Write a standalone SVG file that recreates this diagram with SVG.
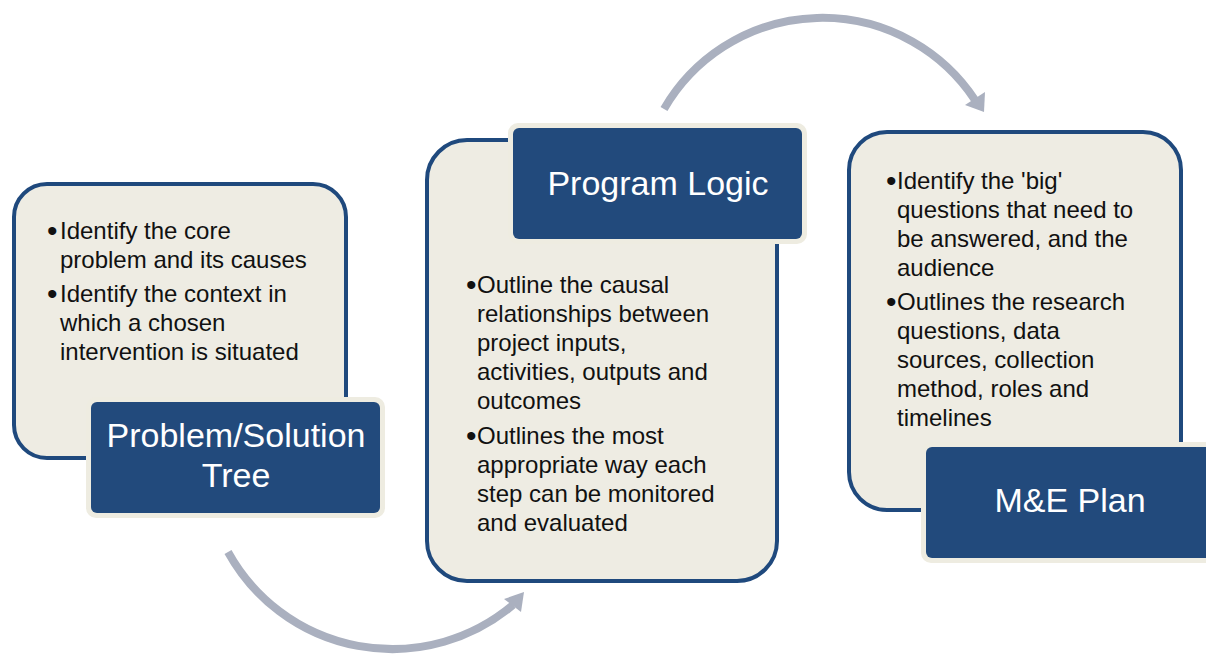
<svg xmlns="http://www.w3.org/2000/svg" width="1206" height="656" viewBox="0 0 1206 656">
  <defs>
    <style>
      .panel { fill: #EEECE3; stroke: #1F497D; stroke-width: 4; }
      .rim { fill: #EEECE1; }
      .title { fill: #224A7C; }
      .body { font-family: "Liberation Sans", Arial, sans-serif; font-size: 24px; fill: #111111; }
      .dot { font-family: "Liberation Sans", Arial, sans-serif; font-size: 30px; fill: #111111; }
      .head { font-family: "Liberation Sans", Arial, sans-serif; font-size: 34px; fill: #FFFFFF; text-anchor: middle; }
      .arc { fill: none; stroke: #AAB0BF; stroke-width: 8; }
      .tip { fill: #AAB0BF; }
    </style>
  </defs>
  <rect width="1206" height="656" fill="#FFFFFF"/>

  <g id="connectors">
    <path class="arc" d="M228,552 A187.5,187.5 0 0 0 513,605"/>
    <polygon class="tip" points="524,592 504,599 521,612"/>
    <path class="arc" d="M664,109 A183,183 0 0 1 975,100"/>
    <polygon class="tip" points="984,112 965,105 985,92"/>
  </g>

  <g id="problem-solution-tree">
    <rect class="panel" x="14" y="184" width="332" height="274" rx="33"/>
    <text class="dot" x="47" y="241">•</text>
    <text class="body" x="60" y="239">Identify the core</text>
    <text class="body" x="60" y="268">problem and its causes</text>
    <text class="dot" x="47" y="304">•</text>
    <text class="body" x="60" y="302">Identify the context in</text>
    <text class="body" x="60" y="331">which a chosen</text>
    <text class="body" x="60" y="360">intervention is situated</text>
    <rect class="rim" x="86" y="397" width="299" height="121" rx="10"/>
    <rect class="title" x="91" y="402" width="289" height="111" rx="6"/>
    <text class="head" x="236" y="447">Problem/Solution</text>
    <text class="head" x="236" y="487">Tree</text>
  </g>

  <g id="program-logic">
    <rect class="panel" x="427" y="140" width="350" height="441" rx="40"/>
    <rect class="rim" x="508" y="123" width="299" height="121" rx="10"/>
    <rect class="title" x="513" y="128" width="289" height="111" rx="6"/>
    <text class="head" x="658" y="195">Program Logic</text>
    <text class="dot" x="466" y="295">•</text>
    <text class="body" x="477" y="293">Outline the causal</text>
    <text class="body" x="477" y="322">relationships between</text>
    <text class="body" x="477" y="351">project inputs,</text>
    <text class="body" x="477" y="380">activities, outputs and</text>
    <text class="body" x="477" y="409">outcomes</text>
    <text class="dot" x="466" y="446">•</text>
    <text class="body" x="477" y="444">Outlines the most</text>
    <text class="body" x="477" y="473">appropriate way each</text>
    <text class="body" x="477" y="502">step can be monitored</text>
    <text class="body" x="477" y="531">and evaluated</text>
  </g>

  <g id="me-plan">
    <rect class="panel" x="849" y="132" width="332" height="378" rx="38"/>
    <text class="dot" x="886" y="191">•</text>
    <text class="body" x="897" y="189">Identify the 'big'</text>
    <text class="body" x="897" y="218">questions that need to</text>
    <text class="body" x="897" y="247">be answered, and the</text>
    <text class="body" x="897" y="276">audience</text>
    <text class="dot" x="886" y="312">•</text>
    <text class="body" x="897" y="310">Outlines the research</text>
    <text class="body" x="897" y="339">questions, data</text>
    <text class="body" x="897" y="368">sources, collection</text>
    <text class="body" x="897" y="397">method, roles and</text>
    <text class="body" x="897" y="426">timelines</text>
    <rect class="rim" x="921" y="442" width="299" height="121" rx="10"/>
    <rect class="title" x="926" y="447" width="289" height="111" rx="6"/>
    <text class="head" x="1070" y="512">M&amp;E Plan</text>
  </g>
</svg>
